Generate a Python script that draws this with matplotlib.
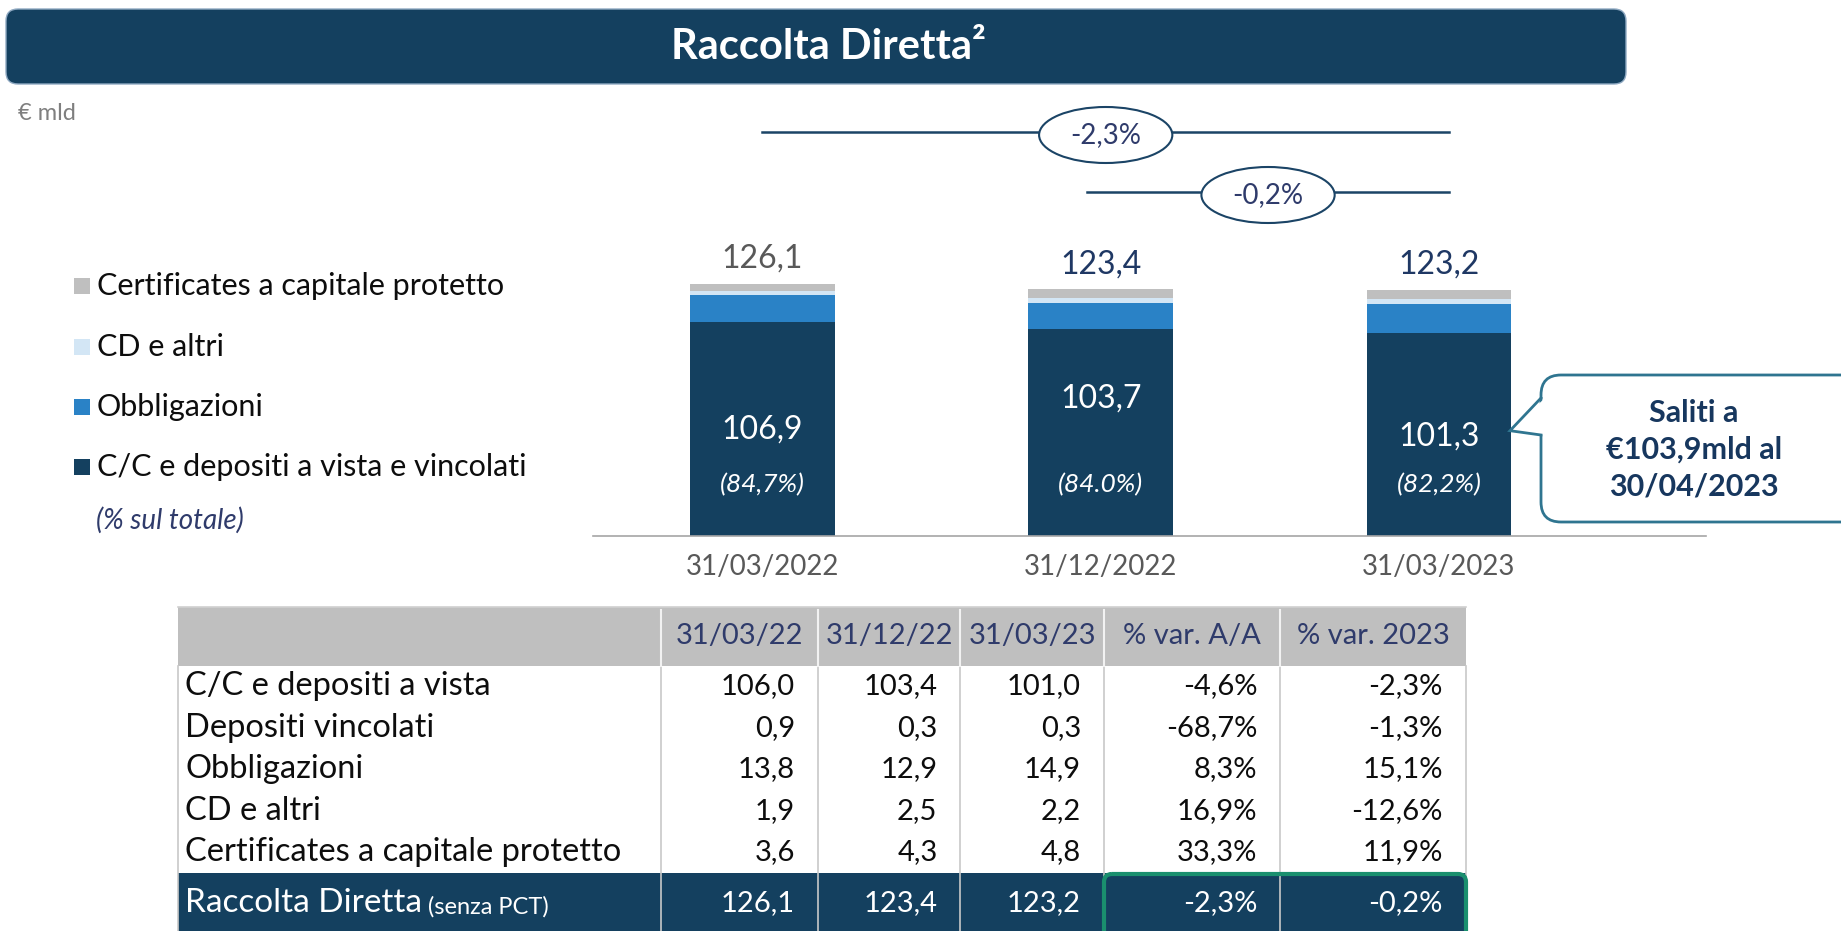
import matplotlib.pyplot as plt
from matplotlib.patches import FancyBboxPatch, Ellipse, Rectangle, Polygon

plt.rcParams['font.family'] = ['Lato', 'DejaVu Sans']

# === DATA (€ mld) ===
periods = ["31/03/2022", "31/12/2022", "31/03/2023"]
table_periods = ["31/03/22", "31/12/22", "31/03/23"]
row_labels = ["C/C e depositi a vista", "Depositi vincolati", "Obbligazioni",
              "CD e altri", "Certificates a capitale protetto"]
cc_vista = [106.0, 103.4, 101.0]
dep_vincolati = [0.9, 0.3, 0.3]
obbligazioni = [13.8, 12.9, 14.9]
cd_altri = [1.9, 2.5, 2.2]
certificates = [3.6, 4.3, 4.8]
totale = [126.1, 123.4, 123.2]
share_labels = ["(84,7%)", "(84.0%)", "(82,2%)"]
var_aa = [-4.6, -68.7, 8.3, 16.9, 33.3, -2.3]      # last = Raccolta Diretta
var_2023 = [-2.3, -1.3, 15.1, -12.6, 11.9, -0.2]

# === STYLE ===
W, H = 1841, 931
NAVY = '#14405F'
MID_BLUE = '#2A82C6'
LIGHT_BLUE = '#D3E6F5'
GREY = '#BFBFBF'
SLATE = '#2F3B6B'
TEAL = '#2F7590'
GREEN = '#1A8F6E'
LABEL_Y = [53, 68.8, 49.7]   # inner value labels (data units)
SHARE_Y = 25.5


def fmt(v):
    return f"{v:.1f}".replace('.', ',')


def fmt_pct(v):
    return f"{v:.1f}%".replace('.', ',')


fig = plt.figure(figsize=(W / 100, H / 100), dpi=100)

# === BAR PANEL === (baseline at 536 px, 2 px per € mld)
ax = fig.add_axes([593 / W, 1 - 536 / H, (1706 - 593) / W, (536 - 100) / H])
x = [0, 1, 2]
dark = [a + b for a, b in zip(cc_vista, dep_vincolati)]
bottoms = [0, 0, 0]
for vals, col in [(dark, NAVY), (obbligazioni, MID_BLUE),
                  (cd_altri, LIGHT_BLUE), (certificates, GREY)]:
    ax.bar(x, vals, width=0.427, bottom=bottoms, color=col, linewidth=0)
    bottoms = [b + v for b, v in zip(bottoms, vals)]

ax.set_xlim(-0.501, 2.79)
ax.set_ylim(0, 218)
for s in ['top', 'right', 'left']:
    ax.spines[s].set_visible(False)
ax.spines['bottom'].set_color('#A6A6A6')
ax.spines['bottom'].set_linewidth(1.2)
ax.set_yticks([])
ax.set_xticks(x, periods)
ax.tick_params(axis='x', length=0, pad=13, labelsize=20, labelcolor='#595959')
ax.patch.set_alpha(0)

total_colors = ['#595959', '#1F3864', '#1F3864']
for i in x:
    ax.annotate(fmt(totale[i]), (i, bottoms[i]), xytext=(0, 18),
                textcoords='offset points', ha='center', va='center',
                fontsize=23, color=total_colors[i])
    ax.text(i, LABEL_Y[i], fmt(dark[i]), ha='center', va='center',
            fontsize=23, color='white')
    ax.text(i, SHARE_Y, share_labels[i], ha='center', va='center',
            fontsize=19, color='white', style='italic')

# variation brackets
for (x0, x1), y, v in [((0, 2.03), 202, var_aa[-1]), ((0.96, 2.03), 172, var_2023[-1])]:
    xm = (x0 + x1) / 2
    ax.plot([x0, x1], [y, y], color='#1B4466', lw=1.8, clip_on=False)
    ax.add_patch(Ellipse((xm, y - 1.5), 0.394, 28, fc='white', ec='#1B4466',
                         lw=1.5, clip_on=False, zorder=3))
    ax.text(xm, y - 1.5, fmt_pct(v), ha='center', va='center', fontsize=20,
            color=SLATE, zorder=4)

# === OVERLAY (pixel coordinates) ===
ov = fig.add_axes([0, 0, 1, 1])
ov.set_xlim(0, W)
ov.set_ylim(H, 0)
ov.axis('off')

# header
ov.add_patch(FancyBboxPatch((6, 9), 1620, 75, boxstyle="round,pad=0,rounding_size=12",
                            fc=NAVY, ec='#8FA9C2', lw=1))
ov.text(828, 47, "Raccolta Diretta²", ha='center', va='center', fontsize=30,
        color='white', weight='bold')
ov.text(18, 113, "€ mld", va='center', fontsize=17, color='#7F7F7F')

# legend
legend_items = [("Certificates a capitale protetto", GREY), ("CD e altri", LIGHT_BLUE),
                ("Obbligazioni", MID_BLUE), ("C/C e depositi a vista e vincolati", NAVY)]
for (lab, col), yy in zip(legend_items, [286, 346.7, 406.7, 466.7]):
    ov.add_patch(Rectangle((74, yy - 8), 16, 16, fc=col, lw=0))
    ov.text(97, yy, lab, va='center', fontsize=22, color='#0D0D0D')
ov.text(96, 520, "(% sul totale)", va='center', fontsize=20, color=SLATE, style='italic')

# callout
ov.add_patch(FancyBboxPatch((1541, 375), 320, 147, boxstyle="round,pad=0,rounding_size=20",
                            fc='white', ec=TEAL, lw=2))
ov.add_patch(Polygon([(1545, 398), (1510, 430.7), (1545, 435)], closed=True, fc='white', lw=0))
ov.plot([1541, 1510, 1541], [398, 430.7, 435], color=TEAL, lw=2, solid_joinstyle='miter')
for txt, yy in zip(["Saliti a", "€103,9mld al", "30/04/2023"], [413.3, 450, 486.7]):
    ov.text(1694, yy, txt, ha='center', va='center', fontsize=22, weight='bold', color='#17375E')

# === TABLE ===
col_edges = [178.5, 661, 818, 960.5, 1104, 1280.5, 1466]
head_top, head_bot, row_h, tot_top, tot_bot = 606.5, 665.7, 41.5, 873, 945
ov.add_patch(Rectangle((col_edges[0], head_top), col_edges[-1] - col_edges[0],
                       head_bot - head_top, fc=GREY, lw=0))
ov.add_patch(Rectangle((col_edges[0], tot_top), col_edges[-1] - col_edges[0],
                       tot_bot - tot_top, fc=NAVY, lw=0))
for i, xe in enumerate(col_edges):
    ov.plot([xe, xe], [head_bot, tot_bot], color='#C8C8C8', lw=1.2)
    if 0 < i < len(col_edges) - 1:
        ov.plot([xe, xe], [head_top + 3, head_bot], color='#F2F2F2', lw=1.5)
ov.plot([col_edges[0], col_edges[-1]], [head_top, head_top], color='#D0D0D0', lw=1.2)

headers = table_periods + ["% var. A/A", "% var. 2023"]
for j, h in enumerate(headers):
    xc = (col_edges[j + 1] + col_edges[j + 2]) / 2
    ov.text(xc, (head_top + head_bot) / 2, h, ha='center', va='center',
            fontsize=21, color=SLATE)

series = [cc_vista, dep_vincolati, obbligazioni, cd_altri, certificates]
for r, (lab, vals) in enumerate(zip(row_labels, series)):
    yy = head_bot + row_h * (r + 0.5)
    ov.text(185.5, yy, lab, va='center', fontsize=23.5, color='#0D0D0D')
    cells = [fmt(v) for v in vals] + [fmt_pct(var_aa[r]), fmt_pct(var_2023[r])]
    for j, c in enumerate(cells):
        ov.text(col_edges[j + 2] - 23, yy, c, ha='right', va='center',
                fontsize=21, color='#0D0D0D')

# total row
ty = 903
t1 = ov.text(185.5, ty, "Raccolta Diretta", va='center', fontsize=24, color='white')
ov.annotate(" (senza PCT)", xy=(1, 0), xycoords=t1, va='bottom', fontsize=17, color='white')
tot_cells = [fmt(v) for v in totale] + [fmt_pct(var_aa[-1]), fmt_pct(var_2023[-1])]
for j, c in enumerate(tot_cells):
    ov.text(col_edges[j + 2] - 23, ty, c, ha='right', va='center', fontsize=21, color='white')
ov.add_patch(FancyBboxPatch((1104, 874), 362, 70, boxstyle="round,pad=0,rounding_size=8",
                            fc='none', ec=GREEN, lw=3, zorder=5))

fig.savefig("out.png", dpi=100)
